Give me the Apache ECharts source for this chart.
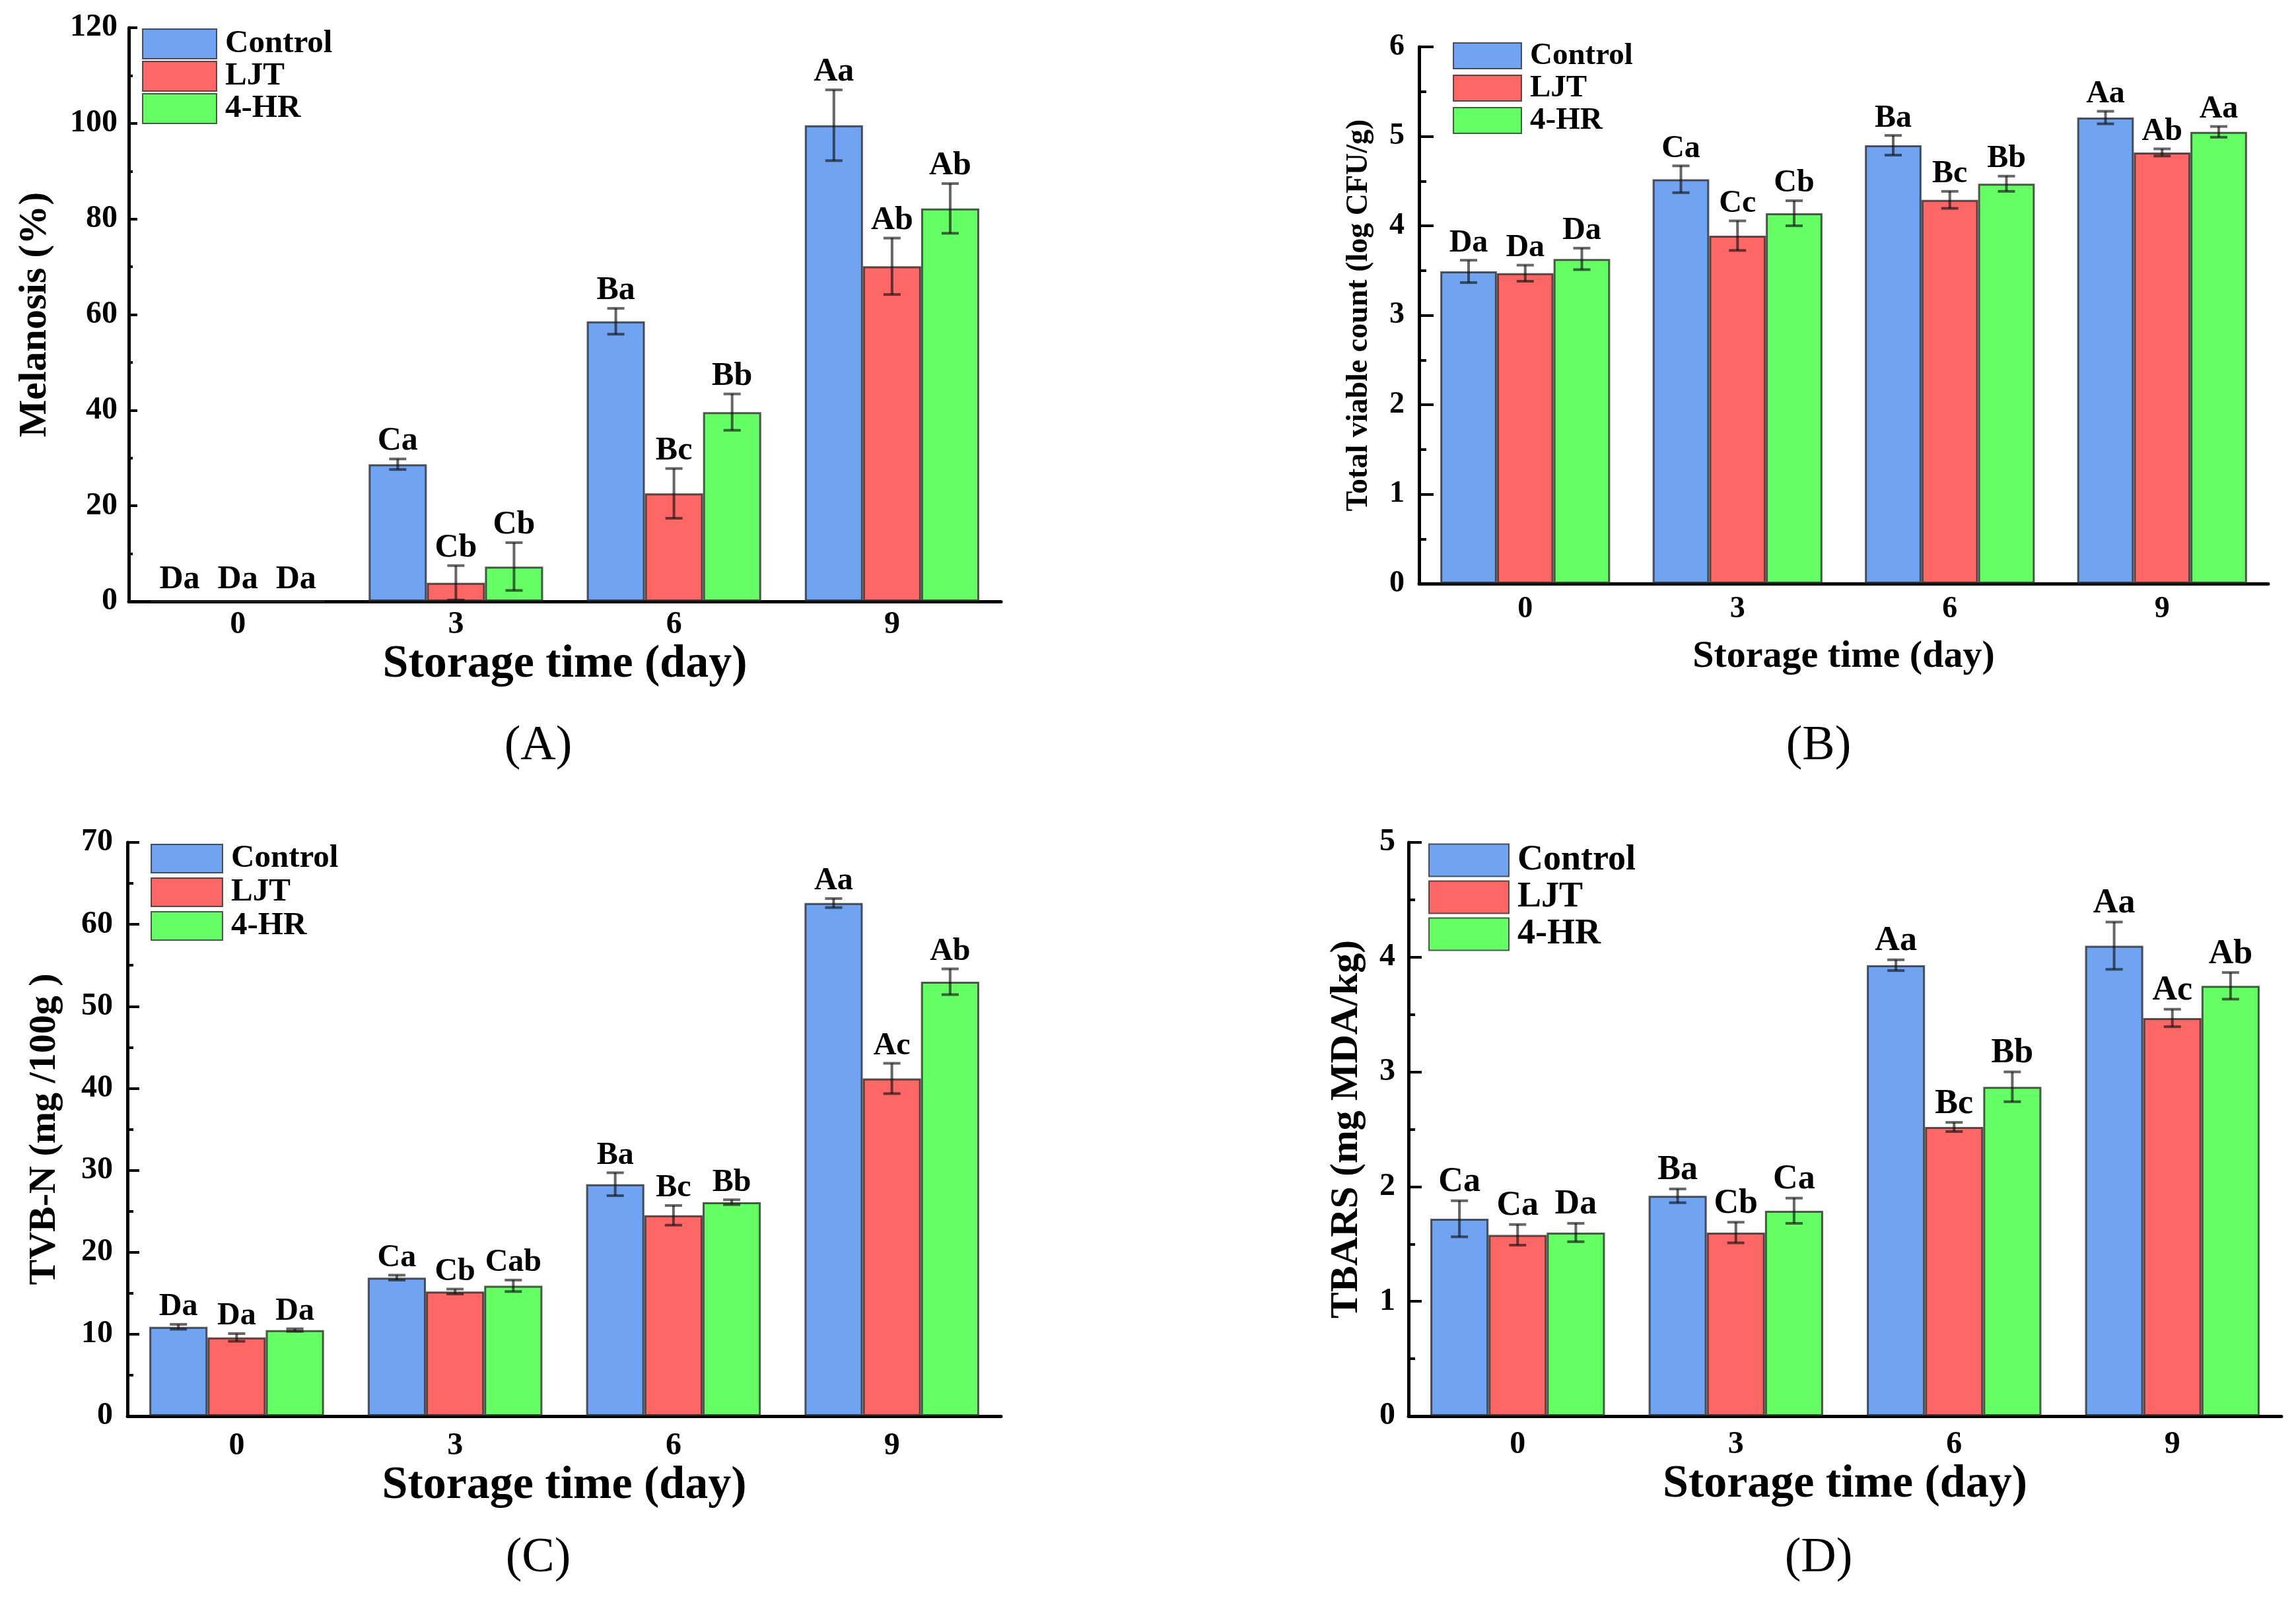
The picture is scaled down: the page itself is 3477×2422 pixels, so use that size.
<!DOCTYPE html>
<html>
<head>
<meta charset="utf-8">
<script src="https://cdn.jsdelivr.net/npm/echarts@6/dist/echarts.min.js"></script>
<style>
html,body{margin:0;padding:0;background:#fff;}
#chart{width:3477px;height:2422px;}
</style>
</head>
<body>
<div id="chart"></div>
<script>
// ---------- data ----------
const categories = ['0', '3', '6', '9'];
const seriesNames = ['Control', 'LJT', '4-HR'];

// (A) Melanosis (%)
const melControl = [0, 28.7, 58.6, 99.6];
const melControlErr = [0, 1.1, 2.7, 7.4];
const melLJT = [0, 3.9, 22.6, 70.1];
const melLJTErr = [0, 3.6, 5.2, 5.9];
const melHR = [0, 7.3, 39.6, 82.2];
const melHRErr = [0, 5.0, 3.8, 5.2];
const melLabelsControl = ['Da', 'Ca', 'Ba', 'Aa'];
const melLabelsLJT = ['Da', 'Cb', 'Bc', 'Ab'];
const melLabelsHR = ['Da', 'Cb', 'Bb', 'Ab'];
const melTicks = [0, 20, 40, 60, 80, 100, 120];

// (B) Total viable count (log CFU/g)
const tvcControl = [3.49, 4.52, 4.90, 5.21];
const tvcControlErr = [0.125, 0.15, 0.11, 0.07];
const tvcLJT = [3.47, 3.89, 4.29, 4.82];
const tvcLJTErr = [0.09, 0.165, 0.095, 0.04];
const tvcHR = [3.63, 4.14, 4.47, 5.05];
const tvcHRErr = [0.12, 0.14, 0.085, 0.06];
const tvcLabelsControl = ['Da', 'Ca', 'Ba', 'Aa'];
const tvcLabelsLJT = ['Da', 'Cc', 'Bc', 'Ab'];
const tvcLabelsHR = ['Da', 'Cb', 'Bb', 'Aa'];
const tvcTicks = [0, 1, 2, 3, 4, 5, 6];

// (C) TVB-N (mg/100g)
const tvbControl = [10.9, 16.9, 28.3, 62.6];
const tvbControlErr = [0.3, 0.3, 1.4, 0.55];
const tvbLJT = [9.6, 15.2, 24.5, 41.2];
const tvbLJTErr = [0.47, 0.3, 1.2, 1.85];
const tvbHR = [10.5, 15.9, 26.1, 53.0];
const tvbHRErr = [0.16, 0.7, 0.3, 1.57];
const tvbLabelsControl = ['Da', 'Ca', 'Ba', 'Aa'];
const tvbLabelsLJT = ['Da', 'Cb', 'Bc', 'Ac'];
const tvbLabelsHR = ['Da', 'Cab', 'Bb', 'Ab'];
const tvbTicks = [0, 10, 20, 30, 40, 50, 60, 70];

// (D) TBARS (mg MDA/kg)
const tbControl = [1.72, 1.92, 3.93, 4.10];
const tbControlErr = [0.157, 0.06, 0.047, 0.206];
const tbLJT = [1.58, 1.60, 2.52, 3.47];
const tbLJTErr = [0.09, 0.09, 0.04, 0.076];
const tbHR = [1.60, 1.79, 2.87, 3.75];
const tbHRErr = [0.08, 0.11, 0.13, 0.116];
const tbLabelsControl = ['Ca', 'Ba', 'Aa', 'Aa'];
const tbLabelsLJT = ['Ca', 'Cb', 'Bc', 'Ac'];
const tbLabelsHR = ['Da', 'Ca', 'Bb', 'Ab'];
const tbTicks = [0, 1, 2, 3, 4, 5];

// ---------- styling / layout ----------
const FONT = '"Liberation Serif", "Times New Roman", serif';
const colors = ['#70A4F3', '#FF6666', '#66FF66'];

const panels = [
  {
    grid: {left: 195, top: 42, width: 1321, height: 869},
    ticks: melTicks, yName: 'Melanosis (%)', yNameSize: 60, yNameGap: 112,
    xNameSize: 70, xNameGap: 60, tickFont: 48, xLabelMargin: 12, yLabelMargin: 17,
    tickLen: 13, minorLen: 6,
    means: [melControl, melLJT, melHR], errs: [melControlErr, melLJTErr, melHRErr],
    labels: [melLabelsControl, melLabelsLJT, melLabelsHR], labelFont: 50,
    legend: {left: 215, top: 42, w: 112, h: 45, gap: 0, font: 49},
    tag: '(A)', tagPos: [815, 1131]
  },
  {
    grid: {left: 2149, top: 71, width: 1286, height: 813},
    ticks: tvcTicks, yName: 'Total viable count (log CFU/g)', yNameSize: 46, yNameGap: 68,
    xNameSize: 58, xNameGap: 82, tickFont: 46, xLabelMargin: 16, yLabelMargin: 22,
    tickLen: 22, minorLen: 11,
    means: [tvcControl, tvcLJT, tvcHR], errs: [tvcControlErr, tvcLJTErr, tvcHRErr],
    labels: [tvcLabelsControl, tvcLabelsLJT, tvcLabelsHR], labelFont: 48,
    legend: {left: 2200, top: 61, w: 103, h: 39, gap: 2, font: 47},
    tag: '(B)', tagPos: [2754, 1131]
  },
  {
    grid: {left: 193, top: 1276, width: 1323, height: 869},
    ticks: tvbTicks, yName: 'TVB-N (mg /100g )', yNameSize: 58, yNameGap: 96,
    xNameSize: 70, xNameGap: 66, tickFont: 48, xLabelMargin: 22, yLabelMargin: 22,
    tickLen: 18, minorLen: 9,
    means: [tvbControl, tvbLJT, tvbHR], errs: [tvbControlErr, tvbLJTErr, tvbHRErr],
    labels: [tvbLabelsControl, tvbLabelsLJT, tvbLabelsHR], labelFont: 48,
    legend: {left: 228, top: 1276, w: 108, h: 43, gap: 2, font: 49},
    tag: '(C)', tagPos: [815, 2361]
  },
  {
    grid: {left: 2133, top: 1276, width: 1322, height: 869},
    ticks: tbTicks, yName: 'TBARS (mg MDA/kg)', yNameSize: 60, yNameGap: 64,
    xNameSize: 70, xNameGap: 56, tickFont: 48, xLabelMargin: 20, yLabelMargin: 20,
    tickLen: 20, minorLen: 10,
    means: [tbControl, tbLJT, tbHR], errs: [tbControlErr, tbLJTErr, tbHRErr],
    labels: [tbLabelsControl, tbLabelsLJT, tbLabelsHR], labelFont: 52,
    legend: {left: 2163, top: 1276, w: 121, h: 49, gap: 2, font: 54},
    tag: '(D)', tagPos: [2754, 2361]
  }
];

const grids = [], xAxes = [], yAxes = [], series = [], legends = [], graphics = [];

panels.forEach((p, k) => {
  grids.push(Object.assign({containLabel: false}, p.grid));
  xAxes.push({
    type: 'category', gridIndex: k, data: categories,
    name: 'Storage time (day)', nameLocation: 'middle', nameGap: p.xNameGap,
    nameTextStyle: {fontFamily: FONT, fontWeight: 'bold', fontSize: p.xNameSize, color: '#000'},
    axisLine: {show: true, lineStyle: {color: '#000', width: 5}},
    axisTick: {show: false},
    axisLabel: {fontFamily: FONT, fontWeight: 'bold', fontSize: p.tickFont, color: '#000', margin: p.xLabelMargin},
    splitLine: {show: false}
  });
  const tk = p.ticks;
  yAxes.push({
    type: 'value', gridIndex: k, min: tk[0], max: tk[tk.length - 1], interval: tk[1] - tk[0],
    name: p.yName, nameLocation: 'middle', nameGap: p.yNameGap, nameRotate: 90,
    nameTextStyle: {fontFamily: FONT, fontWeight: 'bold', fontSize: p.yNameSize, color: '#000'},
    axisLine: {show: true, lineStyle: {color: '#000', width: 5}},
    axisTick: {show: true, inside: true, length: p.tickLen, lineStyle: {color: '#000', width: 4}},
    minorTick: {show: true, splitNumber: 2, length: p.minorLen, lineStyle: {color: '#000', width: 4}},
    axisLabel: {fontFamily: FONT, fontWeight: 'bold', fontSize: p.tickFont, color: '#000', margin: p.yLabelMargin},
    splitLine: {show: false}
  });
  seriesNames.forEach((nm, s) => {
    series.push({
      type: 'bar', name: nm, xAxisIndex: k, yAxisIndex: k,
      data: p.means[s],
      barGap: '0%', barCategoryGap: '20%',
      itemStyle: {color: colors[s], borderColor: 'rgba(35,35,35,0.75)', borderWidth: 3},
      emphasis: {disabled: true},
      z: 2
    });
  });
  seriesNames.forEach((nm, s) => {
    const labs = p.labels[s];
    const errs = p.errs[s];
    series.push({
      type: 'custom', name: 'err-' + k + '-' + s, xAxisIndex: k, yAxisIndex: k,
      data: categories.map((c, i) => [i, p.means[s][i], errs[i]]),
      encode: {x: 0, y: 1},
      z: 5, silent: true,
      renderItem: function (params, api) {
        const ci = api.value(0), m = api.value(1), e = api.value(2);
        const band = api.size([1, 0])[0];
        const bw = band * 0.8 / 3;
        const off = (s - 1) * bw;
        const top = api.coord([ci, m + e]);
        const bot = api.coord([ci, m - e]);
        const x = top[0] + off;
        const children = [];
        const stroke = 'rgba(20,20,20,0.65)';
        if (e > 0) {
          children.push({type: 'line', shape: {x1: x, y1: top[1], x2: x, y2: bot[1]}, style: {stroke: stroke, lineWidth: 4}});
          children.push({type: 'line', shape: {x1: x - 13, y1: top[1], x2: x + 13, y2: top[1]}, style: {stroke: stroke, lineWidth: 4}});
          children.push({type: 'line', shape: {x1: x - 13, y1: bot[1], x2: x + 13, y2: bot[1]}, style: {stroke: stroke, lineWidth: 4}});
        }
        children.push({
          type: 'text',
          style: {
            x: x, y: top[1] - (e > 0 ? 2 : 8), text: labs[params.dataIndex],
            fill: '#000', fontFamily: FONT, fontWeight: 'bold', fontSize: p.labelFont,
            align: 'center', verticalAlign: 'bottom'
          }
        });
        return {type: 'group', children: children};
      }
    });
  });
  const L = p.legend;
  legends.push({
    orient: 'vertical', left: L.left, top: L.top, padding: 0,
    itemWidth: L.w, itemHeight: L.h, itemGap: L.gap, icon: 'rect',
    selectedMode: false,
    data: seriesNames,
    textStyle: {fontFamily: FONT, fontWeight: 'bold', fontSize: L.font, color: '#000',
      lineHeight: L.h, padding: [0, 0, 0, 8]}
  });
  graphics.push({
    type: 'text', x: p.tagPos[0], y: p.tagPos[1],
    style: {text: p.tag, fontFamily: FONT, fontSize: 74, fontWeight: 'normal', fill: '#000',
      align: 'center', verticalAlign: 'middle'}
  });
});

const chart = echarts.init(document.getElementById('chart'), null, {renderer: 'canvas'});
chart.setOption({
  backgroundColor: '#fff',
  animation: false,
  grid: grids,
  xAxis: xAxes,
  yAxis: yAxes,
  legend: legends,
  series: series,
  graphic: graphics
});
</script>
</body>
</html>
